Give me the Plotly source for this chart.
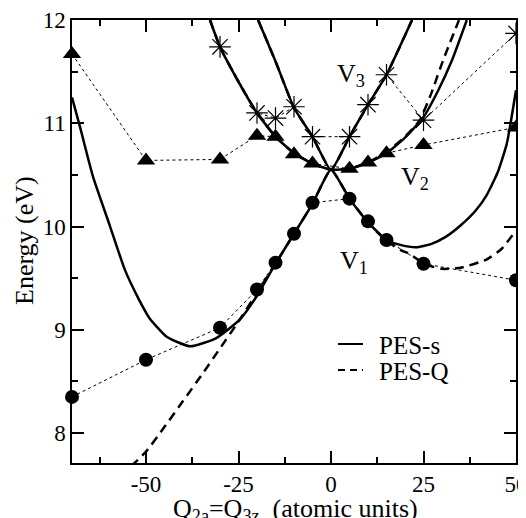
import plotly.graph_objects as go

# ---------------- data ----------------
# PES-s (solid) adiabatic curves
s_v1_x = [-70, -67.8, -64.3, -59.7, -55.7, -52, -49, -44.3, -38, -31, -24.6, -20, -15, -10, -5, 0,
          5, 10, 15, 19, 23, 27, 31, 35, 39, 42, 45, 47.5, 50]
s_v1_y = [11.25, 10.96, 10.48, 10.00, 9.58, 9.30, 9.11, 8.93, 8.84, 8.92, 9.10, 9.33, 9.64, 9.93, 10.22, 10.55,
          10.27, 10.04, 9.87, 9.82, 9.80, 9.83, 9.90, 10.01, 10.15, 10.30, 10.52, 10.80, 11.32]
s_v2_x = [-32.7, -30, -25, -20, -15, -10, -5, 0, 5, 10, 15, 20, 25, 29, 32.7, 36.7]
s_v2_y = [12.0, 11.74, 11.40, 11.10, 10.87, 10.71, 10.61, 10.55, 10.56, 10.62, 10.71, 10.86, 11.06, 11.32, 11.61, 12.0]
s_v3_x = [-19.7, -15, -10, -5, 0, 5, 10, 15, 21.9]
s_v3_y = [12.0, 11.60, 11.15, 10.87, 10.55, 10.87, 11.18, 11.47, 12.0]

# PES-Q (dashed) adiabatic curves
q_v1_x = [-54, -50, -45, -40, -35, -30, -25, -20, -15, -10, -5, 0,
          5, 10, 15, 19, 21.5, 25, 30, 35, 42, 46, 50]
q_v1_y = [7.68, 7.82, 8.06, 8.31, 8.56, 8.82, 9.08, 9.36, 9.64, 9.93, 10.22, 10.55,
          10.27, 10.04, 9.86, 9.77, 9.73, 9.64, 9.59, 9.60, 9.68, 9.78, 9.96]
q_v2_x = [-32.7, -30, -25, -20, -15, -10, -5, 0, 5, 10, 15, 20, 24, 27, 30.3, 34.6]
q_v2_y = [12.0, 11.74, 11.40, 11.10, 10.87, 10.71, 10.61, 10.55, 10.56, 10.62, 10.72, 10.87, 11.03, 11.28, 11.61, 12.0]
q_v3_x = [-19.7, -15, -10, -5, 0, 5, 10, 15, 21.9]
q_v3_y = [12.0, 11.60, 11.15, 10.87, 10.55, 10.87, 11.18, 11.47, 12.0]

# computed points (symbols, dotted)
circ_x = [-70, -50, -30, -20, -15, -10, -5, 5, 10, 15, 25, 50]
circ_y = [8.35, 8.71, 9.02, 9.39, 9.65, 9.93, 10.23, 10.27, 10.05, 9.87, 9.64, 9.48]
tri_x = [-70, -50, -30, -20, -15, -10, -5, 5, 10, 15, 25, 50]
tri_y = [11.67, 10.64, 10.65, 10.88, 10.87, 10.70, 10.61, 10.56, 10.62, 10.71, 10.79, 10.96]
star_x = [-30, -20, -15, -10, -5, 5, 10, 15, 25, 50]
star_y = [11.74, 11.10, 11.05, 11.16, 10.87, 10.87, 11.18, 11.47, 11.03, 11.87]

x_ticks = [-50, -25, 0, 25, 50]
y_ticks = [8, 9, 10, 11, 12]

FONT = "Liberation Serif"

# The page body adds an 8px offset; the plot area on screen spans x 72..516, y 20..463.
OFF = 8
W, H = 526, 518
SX0, SX1, SY0, SY1 = 72, 516, 20, 463
L = SX0 - OFF
T = SY0 - OFF
R = W - (SX1 - OFF)
B = H - (SY1 - OFF)
PW, PH = SX1 - SX0, SY1 - SY0


def px(xs):
    return (xs - SX0) / PW


def py(ys):
    return (SY1 - ys) / PH


fig = go.Figure()

# dotted series with markers
fig.add_trace(go.Scatter(x=circ_x, y=circ_y, mode="lines+markers",
                         line=dict(color="black", width=1, dash="dot"),
                         marker=dict(symbol="circle", size=14, color="black"),
                         showlegend=False, cliponaxis=False))
fig.add_trace(go.Scatter(x=tri_x, y=tri_y, mode="lines+markers",
                         line=dict(color="black", width=1, dash="dot"),
                         marker=dict(symbol="triangle-up", size=16, color="black"),
                         showlegend=False, cliponaxis=False))
fig.add_trace(go.Scatter(x=star_x, y=star_y, mode="lines+markers",
                         line=dict(color="black", width=1, dash="dot"),
                         marker=dict(symbol="asterisk-open", size=18, color="black",
                                     line=dict(color="black", width=1.2)),
                         showlegend=False, cliponaxis=False))

# dashed PES-Q
for xs, ys in [(q_v1_x, q_v1_y), (q_v2_x, q_v2_y), (q_v3_x, q_v3_y)]:
    fig.add_trace(go.Scatter(x=xs, y=ys, mode="lines",
                             line=dict(color="black", width=2.5, dash="9px,6px", shape="spline", smoothing=0.5),
                             showlegend=False))

# solid PES-s
for xs, ys in [(s_v1_x, s_v1_y), (s_v2_x, s_v2_y), (s_v3_x, s_v3_y)]:
    fig.add_trace(go.Scatter(x=xs, y=ys, mode="lines",
                             line=dict(color="black", width=2.5, shape="spline", smoothing=0.5),
                             showlegend=False))

# V labels
for txt, xx, yy in [("V<sub>3</sub>", 1.2, 11.47), ("V<sub>2</sub>", 18.5, 10.47), ("V<sub>1</sub>", 2.0, 9.66)]:
    fig.add_annotation(x=xx, y=yy, text=txt, showarrow=False, xanchor="left", yanchor="middle",
                       font=dict(family=FONT, size=26, color="black"))

# legend (drawn manually)
fig.add_shape(type="line", xref="paper", yref="paper", x0=px(338), x1=px(363), y0=py(344), y1=py(344),
              line=dict(color="black", width=2))
fig.add_shape(type="line", xref="paper", yref="paper", x0=px(338), x1=px(363), y0=py(370), y1=py(370),
              line=dict(color="black", width=2, dash="7px,5px"))
fig.add_annotation(xref="paper", yref="paper", x=px(377), y=py(345), text="PES-s", showarrow=False,
                   xanchor="left", yanchor="middle", font=dict(family=FONT, size=25, color="black"))
fig.add_annotation(xref="paper", yref="paper", x=px(377), y=py(371), text="PES-Q", showarrow=False,
                   xanchor="left", yanchor="middle", font=dict(family=FONT, size=25, color="black"))

# axis titles
fig.add_annotation(xref="paper", yref="paper", x=px(295), y=py(510), text="Q<sub>2a</sub>=Q<sub>3z</sub>  (atomic units)",
                   showarrow=False, xanchor="center", yanchor="middle",
                   font=dict(family=FONT, size=26, color="black"))
fig.add_annotation(xref="paper", yref="paper", x=px(24), y=py(241), text="Energy (eV)", textangle=-90,
                   showarrow=False, xanchor="center", yanchor="middle",
                   font=dict(family=FONT, size=26, color="black"))

axis_common = dict(showline=True, linecolor="black", linewidth=1.5, mirror="ticks",
                   ticks="inside", ticklen=12, tickwidth=1.5, tickcolor="black",
                   showgrid=False, zeroline=False, automargin=False,
                   tickfont=dict(family=FONT, size=23, color="black"))

fig.update_xaxes(range=[-70, 50], tickvals=x_ticks, ticktext=[str(v) for v in x_ticks],
                 minor=dict(dtick=12.5, tick0=0, ticks="inside", ticklen=6, tickwidth=1.5, tickcolor="black"),
                 **axis_common)
fig.update_yaxes(range=[7.71, 12], tickvals=y_ticks, ticktext=[str(v) for v in y_ticks],
                 minor=dict(dtick=0.5, tick0=0, ticks="inside", ticklen=6, tickwidth=1.5, tickcolor="black"),
                 **axis_common)

fig.update_layout(width=W, height=H, margin=dict(l=L, r=R, t=T, b=B),
                  plot_bgcolor="white", paper_bgcolor="white",
                  font=dict(family=FONT, color="black"), showlegend=False)

fig.write_html("out.html")
